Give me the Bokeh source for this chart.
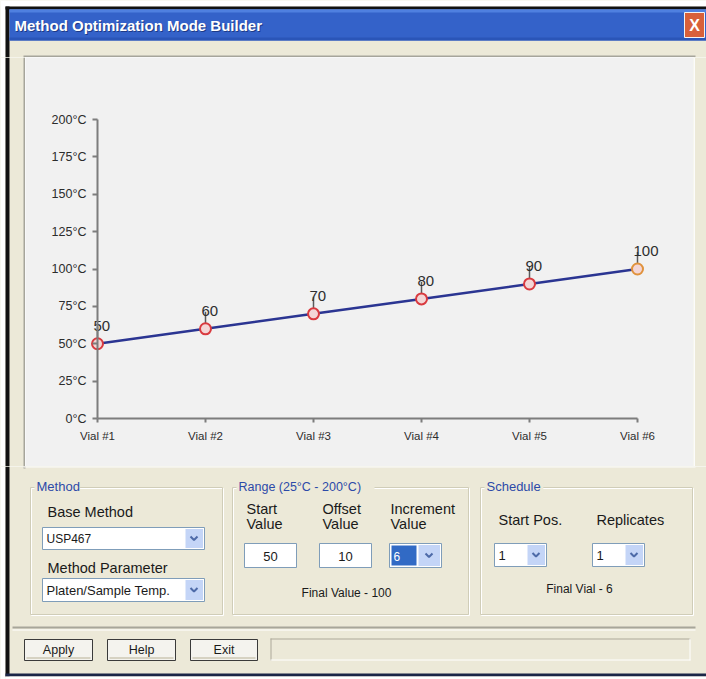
from bokeh.plotting import figure
from bokeh.models import Range1d, FixedTicker
from bokeh.layouts import column, row
from bokeh.embed import file_html
from bokeh.resources import INLINE
from bokeh.core.properties import value

# ---------------- data ----------------
vials = [1, 2, 3, 4, 5, 6]
vial_labels = ["Vial #1", "Vial #2", "Vial #3", "Vial #4", "Vial #5", "Vial #6"]
temps = [50, 60, 70, 80, 90, 100]
temp_ticks = [0, 25, 50, 75, 100, 125, 150, 175, 200]
temp_tick_labels = ["0°C", "25°C", "50°C", "75°C", "100°C", "125°C", "150°C", "175°C", "200°C"]
point_labels = ["50", "60", "70", "80", "90", "100"]
marker_colors = ["#d93a3f", "#d93a3f", "#d93a3f", "#d93a3f", "#d93a3f", "#e0923c"]

# ---------------- styles ----------------
FONT = value("Liberation Sans")
BEIGE = "#ece9d8"
PANEL = "#f1f1f1"
DARK = "#111111"
GROUP_BLUE = "#2c4aa8"
FIELD_BORDER = "#7f9db9"
BTN_BLUE = "#c4d5f7"
PANEL_EDGE = "#a6a59b"
LABEL_SIZE = "14.5px"


def chrome(x0, x1, y0, y1):
    p = figure(width=x1 - x0, height=y1 - y0,
               x_range=Range1d(x0, x1), y_range=Range1d(y1, y0),
               x_axis_location=None, y_axis_location=None,
               toolbar_location=None, output_backend="svg",
               min_border=0, outline_line_color=None,
               background_fill_color=BEIGE, border_fill_color=BEIGE)
    p.grid.visible = False
    return p


def rect(p, l, t, r, b, fill=None, line=None, lw=1):
    p.quad(left=[l], right=[r], top=[t], bottom=[b],
           fill_color=fill, line_color=line, line_width=lw)


def hline(p, x0, x1, y, color, lw=1):
    p.segment(x0=[x0], y0=[y], x1=[x1], y1=[y], line_color=color, line_width=lw)


def vline(p, x, y0, y1, color, lw=1):
    p.segment(x0=[x], y0=[y0], x1=[x], y1=[y1], line_color=color, line_width=lw)


def txt(p, x, y, s, size="13px", color="#1a1a1a", align="left", bold=False):
    p.text(x=[x], y=[y], text=[s], text_font=FONT, text_font_size=size,
           text_color=color, text_align=align, text_baseline="middle",
           text_font_style="bold" if bold else "normal")


def chevron(p, cx, cy):
    p.line(x=[cx - 3.5, cx, cx + 3.5], y=[cy - 2, cy + 1.5, cy - 2],
           line_color="#4d6aa8", line_width=2)


def combo(p, l, t, r, b, label, btn_w=18, size="12px"):
    rect(p, l, t, r, b, "#ffffff", FIELD_BORDER)
    rect(p, r - btn_w - 1, t + 1.5, r - 1.5, b - 1.5, BTN_BLUE, None)
    chevron(p, r - btn_w / 2 - 1.5, (t + b) / 2)
    txt(p, l + 4, (t + b) / 2 + 0.5, label, size=size)


def group(p, l, t, r, b, title, size="13px"):
    rect(p, l + 1, t + 1, r + 1, b + 1, None, "#ffffff")
    rect(p, l, t, r, b, None, "#d0cdb8")
    w = len(title) * 6.6 + 6
    rect(p, l + 4, t - 7, l + 4 + w, t + 4, BEIGE, None)
    txt(p, l + 6, t - 1, title, size=size, color=GROUP_BLUE)


# ---------------- top strip (title bar) ----------------
top = chrome(0, 706, 0, 57)
rect(top, 0, 0, 706, 6, "#ffffff")
rect(top, 0, 0, 5, 57, "#ffffff")
rect(top, 5, 6, 706, 9, DARK)
rect(top, 5, 6, 9, 57, DARK)
rect(top, 9, 9, 706, 40, "#3462c9")
rect(top, 9, 9, 706, 12, "#4f80e0")
rect(top, 9, 37, 706, 40, "#2a55b8")
txt(top, 15, 26, "Method Optimization Mode Builder", size="15px", color="#1d3a86", bold=True)
txt(top, 14, 25, "Method Optimization Mode Builder", size="15px", color="#ffffff", bold=True)
rect(top, 684, 12, 704, 37, "#d8603a", "#f3f3f3")
txt(top, 694, 25, "X", size="16px", color="#ffffff", align="center", bold=True)
rect(top, 23, 55, 695, 57, PANEL_EDGE)

# ---------------- left / right strips ----------------
left = chrome(0, 25, 57, 466)
rect(left, 0, 57, 5, 466, "#ffffff")
rect(left, 5, 57, 9, 466, DARK)
rect(left, 23, 57, 25, 466, PANEL_EDGE)

right = chrome(693, 706, 57, 466)
rect(right, 693, 57, 694.5, 466, "#fbfbfb")

# ---------------- chart ----------------
FR_L, FR_R, FR_T, FR_B = 25, 693, 57, 466       # frame edges on the page
VIAL1_PX, VIAL6_PX = 97, 637                      # axis anchors on the page
T0_PX, T200_PX = 418, 119

ppx = (VIAL6_PX - VIAL1_PX) / (vials[-1] - vials[0])
ppy = (T0_PX - T200_PX) / (temp_ticks[-1] - temp_ticks[0])
x_start = vials[0] - (VIAL1_PX - FR_L) / ppx
x_end = vials[-1] + (FR_R - VIAL6_PX) / ppx
y_start = temp_ticks[0] - (FR_B - T0_PX) / ppy
y_end = temp_ticks[-1] + (T200_PX - FR_T) / ppy

chart = figure(width=FR_R - FR_L, height=FR_B - FR_T,
               x_range=Range1d(x_start, x_end), y_range=Range1d(y_start, y_end),
               toolbar_location=None, output_backend="svg",
               min_border=0,
               background_fill_color=PANEL, border_fill_color=PANEL,
               outline_line_color=None)
chart.grid.visible = False

ax = chart.xaxis[0]
ax.ticker = FixedTicker(ticks=vials)
ax.major_label_overrides = {v: s for v, s in zip(vials, vial_labels)}
ax.bounds = (vials[0], vials[-1])
ax.fixed_location = temp_ticks[0]
ax.major_tick_in = 0
ax.major_tick_out = 4
ax.major_label_standoff = 7
ax.minor_tick_line_color = None

ay = chart.yaxis[0]
ay.ticker = FixedTicker(ticks=temp_ticks)
ay.major_label_overrides = {v: s for v, s in zip(temp_ticks, temp_tick_labels)}
ay.bounds = (temp_ticks[0], temp_ticks[-1])
ay.fixed_location = vials[0]
ay.major_tick_in = 0
ay.major_tick_out = 5
ay.major_label_standoff = 6
ay.minor_tick_line_color = None

for a in (ax, ay):
    a.axis_line_color = "#7d7d7d"
    a.axis_line_width = 2
    a.major_tick_line_color = "#7d7d7d"
    a.major_tick_line_width = 2
    a.major_label_text_font = "Liberation Sans"
    a.major_label_text_color = "#2c2c2c"
ax.major_label_text_font_size = "11.5px"
ay.major_label_text_font_size = "12.5px"

LEADER_PX = 17
chart.segment(x0=vials, y0=temps, x1=vials, y1=[t + LEADER_PX / ppy for t in temps],
              line_color="#5a5a5a", line_width=1.5)
chart.line(vials, temps, line_color="#2b3592", line_width=2.5)
chart.scatter(vials, temps, marker="circle", size=11, line_color=marker_colors,
              line_width=2, fill_color="#f3d6d6")
chart.text(x=vials, y=temps, text=point_labels, x_offset=-4, y_offset=-(LEADER_PX + 1),
           text_font=FONT, text_font_size="15px", text_color="#2e2e2e",
           text_align="left", text_baseline="alphabetic")

# ---------------- bottom strip (controls) ----------------
bot = chrome(0, 706, 466, 679)
rect(bot, 0, 466, 5, 679, "#ffffff")
rect(bot, 5, 466, 9, 676, DARK)
rect(bot, 5, 673, 706, 676, "#1b2547")
rect(bot, 5, 676, 706, 679, "#ffffff")
rect(bot, 23, 466, 25, 468, PANEL_EDGE)
hline(bot, 23, 695, 466.5, "#fbfbfb", 1)

# Method group
group(bot, 30, 487, 222, 614, "Method")
txt(bot, 47, 511, "Base Method", size=LABEL_SIZE)
combo(bot, 42, 527, 204, 549, "USP467")
txt(bot, 47, 567, "Method Parameter", size=LABEL_SIZE)
combo(bot, 42, 578, 204, 601, "Platen/Sample Temp.", size="13px")

# Range group
group(bot, 232, 487, 468, 614, "Range (25°C - 200°C)", size="12.5px")
txt(bot, 246, 508, "Start", size=LABEL_SIZE)
txt(bot, 246, 523, "Value", size=LABEL_SIZE)
txt(bot, 322, 508, "Offset", size=LABEL_SIZE)
txt(bot, 322, 523, "Value", size=LABEL_SIZE)
txt(bot, 390, 508, "Increment", size=LABEL_SIZE)
txt(bot, 390, 523, "Value", size=LABEL_SIZE)
rect(bot, 244, 543, 296, 567, "#ffffff", FIELD_BORDER)
txt(bot, 270, 555.5, "50", align="center")
rect(bot, 319, 543, 371, 567, "#ffffff", FIELD_BORDER)
txt(bot, 345, 555.5, "10", align="center")
rect(bot, 389, 543, 441, 567, "#ffffff", FIELD_BORDER)
rect(bot, 391, 545, 416, 565, "#316ac5", None)
txt(bot, 393, 555.5, "6", size="12px", color="#ffffff")
rect(bot, 418, 544.5, 439.5, 565.5, BTN_BLUE, None)
chevron(bot, 428.5, 555)
txt(bot, 346, 592, "Final Value - 100", size="12px", align="center")

# Schedule group
group(bot, 480, 487, 692, 614, "Schedule")
txt(bot, 498, 519, "Start Pos.", size=LABEL_SIZE)
txt(bot, 596, 519, "Replicates", size=LABEL_SIZE)
combo(bot, 494, 543, 546, 566, "1", size="13px")
combo(bot, 592, 543, 644, 566, "1", size="13px")
txt(bot, 579, 588, "Final Vial - 6", size="12px", align="center")

# separator
hline(bot, 12, 695, 627, "#a7a69a", 2)
hline(bot, 12, 695, 629.5, "#ffffff", 1)

# buttons
for l, r, s in [(24, 92, "Apply"), (107, 175, "Help"), (190, 257, "Exit")]:
    rect(bot, l, 639, r, 660, "#f4f3ee", "#3a3a3a")
    hline(bot, l + 2, r - 2, 657.5, "#d6d2c2", 2)
    txt(bot, (l + r) / 2, 649.5, s, size="12.5px", align="center")

# status field
rect(bot, 270, 638, 690, 660, BEIGE, None)
hline(bot, 270, 690, 638.5, "#aca899", 1)
vline(bot, 270.5, 638, 660, "#aca899", 1)
hline(bot, 270, 690, 659.5, "#ffffff", 1)
vline(bot, 689.5, 638, 660, "#ffffff", 1)

layout = column(top, row(left, chart, right, spacing=0), bot, spacing=0)

open("out.html", "w").write(file_html(layout, INLINE))
